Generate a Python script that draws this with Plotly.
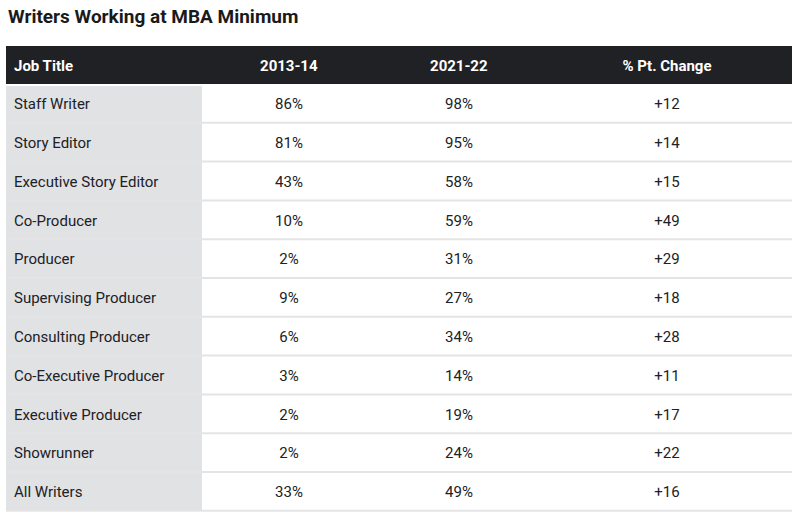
import plotly.graph_objects as go

title = "Writers Working at MBA Minimum"
headers = ["Job Title", "2013-14", "2021-22", "% Pt. Change"]
job_titles = ["Staff Writer", "Story Editor", "Executive Story Editor", "Co-Producer",
              "Producer", "Supervising Producer", "Consulting Producer",
              "Co-Executive Producer", "Executive Producer", "Showrunner", "All Writers"]
pct_2013 = [86, 81, 43, 10, 2, 9, 6, 3, 2, 2, 33]
pct_2021 = [98, 95, 58, 59, 31, 27, 34, 14, 19, 24, 49]
pt_change = [12, 14, 15, 49, 29, 18, 28, 11, 17, 22, 16]

W, H = 800, 519
top = 46
hdr_h = 38
row_h = 38.8
left, right = 6, 792
cell_shift = 6
hdr_shift = 3
col_w = [196, 174, 166, 250]
aligns = ["left", "center", "center", "center"]
clear = "rgba(0,0,0,0)"

n = len(job_titles)
blank = [""] * n
blank_cols = [blank] * len(headers)
no_line = dict(color=clear, width=0)

# background table: header + cell fills
fig = go.Figure(go.Table(
    domain=dict(x=[left / W, right / W], y=[0, 1 - top / H]),
    columnwidth=col_w,
    header=dict(values=[""] * len(headers), fill_color="#202124",
                line=no_line, height=hdr_h),
    cells=dict(values=blank_cols,
               fill_color=["#e1e2e4", "white", "white", "white"],
               line=no_line, height=row_h),
))

# header text
fig.add_trace(go.Table(
    domain=dict(x=[left / W, right / W], y=[0, 1 - (top + hdr_shift) / H]),
    columnwidth=col_w,
    header=dict(values=["<b>%s</b>" % h for h in headers], fill_color=clear,
                line=no_line, height=hdr_h,
                font=dict(family="Roboto", size=15, color="white"), align=aligns),
    cells=dict(values=blank_cols, fill_color=clear, line=no_line, height=row_h),
))

# body text, shifted down so text is vertically centred in rows
fig.add_trace(go.Table(
    domain=dict(x=[left / W, right / W], y=[0, 1 - (top + cell_shift) / H]),
    columnwidth=col_w,
    header=dict(values=[""] * len(headers), fill_color=clear,
                line=no_line, height=hdr_h),
    cells=dict(
        values=[job_titles,
                ["%d%%" % v for v in pct_2013],
                ["%d%%" % v for v in pct_2021],
                ["+%d" % v for v in pt_change]],
        fill_color=clear, line=no_line,
        font=dict(family="Roboto", size=15, color="#202124"),
        align=aligns, height=row_h,
    ),
))

shapes = [dict(type="line", xref="paper", yref="paper",
               x0=left / W, x1=right / W,
               y0=1 - (top + hdr_h + 1) / H, y1=1 - (top + hdr_h + 1) / H,
               line=dict(color="white", width=2), layer="above")]
for i in range(n):
    yy = 1 - (top + hdr_h + (i + 1) * row_h) / H
    shapes.append(dict(type="line", xref="paper", yref="paper",
                       x0=left / W, x1=right / W, y0=yy, y1=yy,
                       line=dict(color="#e4e4e6", width=2), layer="above"))

fig.update_layout(
    width=W, height=H,
    margin=dict(l=0, r=0, t=0, b=0),
    paper_bgcolor="white",
    shapes=shapes,
    annotations=[dict(text="<b>%s</b>" % title, xref="paper", yref="paper",
                      x=left / W, y=1 - 17 / H, xanchor="left", yanchor="middle",
                      showarrow=False,
                      font=dict(family="Roboto", size=19, color="#1a1a1a"))],
)

fig.write_html("out.html", config={"displayModeBar": False},
               post_script="document.body.style.margin='0px';document.body.style.overflow='hidden';")
